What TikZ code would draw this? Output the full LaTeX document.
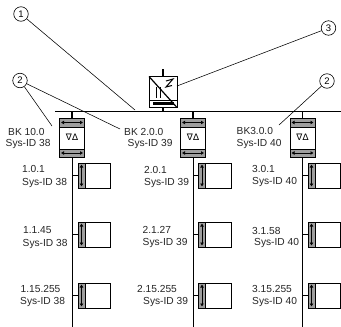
\documentclass[tikz,border=0pt]{standalone}
\usepackage{fontspec}
\setmainfont{Liberation Sans}
\usetikzlibrary{arrows.meta}
\definecolor{bandgray}{gray}{0.62}
\tikzset{
 x=1pt,y=-1pt,
 lab/.style={anchor=base west,inner sep=0pt,font=\fontsize{10.2}{12}\selectfont,text=black!85},
 num/.style={circle,draw,line width=0.6pt,minimum size=14.5pt,inner sep=0pt,font=\fontsize{9.5}{11}\selectfont,fill=white},
 leader/.style={line width=0.55pt},
 bus/.style={line width=0.9pt},
 stub/.style={line width=1.2pt},
 dbl/.style={{Latex[length=3pt,width=4pt]}-{Latex[length=3pt,width=4pt]},line width=1pt},
 bandbox/.style={draw,line width=0.6pt,fill=bandgray,minimum width=25pt,inner sep=0pt,outer sep=0pt},
 rep/.style={draw,line width=0.8pt,fill=white,minimum width=25pt,minimum height=39pt,inner sep=0pt,outer sep=0pt},
 modbox/.style={draw,line width=0.8pt,fill=white,minimum width=25.5pt,minimum height=25pt,inner sep=0pt,outer sep=0pt,anchor=west},
 modband/.style={draw,line width=0.6pt,fill=bandgray,minimum width=7pt,minimum height=25pt,inner sep=0pt,outer sep=0pt,anchor=east},
}
% repeater: #1 name, #2 centre x
\newcommand{\repeater}[2]{%
 \node[rep] (#1) at (#2,137.5) {};
 \node[bandbox,minimum height=9pt,anchor=north] (#1t) at (#1.north) {};
 \node[bandbox,minimum height=8pt,anchor=south] (#1b) at (#1.south) {};
 \draw[dbl] ([xshift=1.5pt]#1t.west) -- ([xshift=-1.5pt]#1t.east);
 \draw[dbl] ([xshift=1.5pt]#1b.west) -- ([xshift=-1.5pt]#1b.east);
 \node[inner sep=0pt] (#1s) at (#1) {\fontsize{9}{10}\selectfont\fontspec{DejaVu Sans}∇∆};
}
% module: #1 name, #2 box left x, #3 centre y, #4 bus coordinate name
\newcommand{\module}[4]{%
 \node[modbox] (#1) at (#2,#3) {};
 \node[modband] (#1b) at (#1.west) {};
 \draw[dbl] ([yshift=-1.5pt]#1b.north) -- ([yshift=1.5pt]#1b.south);
 \coordinate (#1c) at (#4|-#1b.west);
 \draw[stub] (#1c) -- (#1b.west);
}
\begin{document}
\begin{tikzpicture}
\useasboundingbox (0,0) rectangle (341,327);
\fill[white] (0,0) rectangle (341,327);
% bus
\coordinate (busL) at (55,111);
\coordinate (busR) at (341,111);
\draw[bus] (busL) -- (busR);
% repeaters
\repeater{ra}{72}
\repeater{rb}{193}
\repeater{rc}{302.5}
\foreach \r in {ra,rb,rc}{
 \coordinate (\r bus) at (\r|-busL);
 \coordinate (\r end) at (\r|-0,327);
 \draw[stub] (\r bus) -- (\r t.north);
 \draw[bus] (\r b.south) -- (\r end);
}
% modules
\module{ma}{85}{175.5}{ra}
\module{mb}{85}{234.5}{ra}
\module{mc}{85}{295.5}{ra}
\module{md}{205.5}{175.5}{rb}
\module{me}{205.5}{234.5}{rb}
\module{mf}{205.5}{295.5}{rb}
\module{mg}{315}{175.5}{rc}
\module{mh}{315}{234.5}{rc}
\module{mi}{315}{295.5}{rc}
% gateway
\node[draw,line width=0.8pt,fill=white,minimum width=28pt,minimum height=31pt,inner sep=0pt,outer sep=0pt] (gw) at (163,92) {};
\coordinate (gwT) at (163,69);
\coordinate (gwB) at (163,111);
\coordinate (gwE) at (177,86);
\draw[stub] (gwT) -- (gw.north);
\draw[stub] (gw.south) -- (gwB);
\draw[line width=1.2pt] (gw.north west) -- (gw.south east);
\draw[line width=0.8pt] (149,100) -- (177,100);
\fill (153,101.5) rectangle (174,104.5);
\draw[line width=1pt] (156.5,87) -- (156.5,98) (160,87) -- (160,98);
\draw[line width=1pt] (166,81) -- (173,79) -- (166,87) -- (172,85.5);
% labels
\node[lab] (t1a) at (8,135) {BK 10.0};
\node[lab] (t1b) at (5.5,146) {Sys-ID 38};
\node[lab] (t2a) at (124,135) {BK 2.0.0};
\node[lab] (t2b) at (127.5,146) {Sys-ID 39};
\node[lab] (t3a) at (236.5,134) {BK3.0.0};
\node[lab] (t3b) at (236.5,146) {Sys-ID 40};
\node[lab] (l1) at (22,172.5) {1.0.1};
\node[lab] (l1s) at (22,185) {Sys-ID 38};
\node[lab] (l2) at (23,233) {1.1.45};
\node[lab] (l2s) at (22.5,246) {Sys-ID 38};
\node[lab] (l3) at (20.5,292) {1.15.255};
\node[lab] (l3s) at (20,304) {Sys-ID 38};
\node[lab] (l4) at (144,173) {2.0.1};
\node[lab] (l4s) at (144,185) {Sys-ID 39};
\node[lab] (l5a) at (142.5,233) {2.1.27};
\node[lab] (l5s) at (142.5,245) {Sys-ID 39};
\node[lab] (l6) at (137,292) {2.15.255};
\node[lab] (l6s) at (143,304) {Sys-ID 39};
\node[lab] (l7) at (252,172) {3.0.1};
\node[lab] (l7s) at (252,184) {Sys-ID 40};
\node[lab] (l8) at (252,234) {3.1.58};
\node[lab] (l8s) at (254,245) {Sys-ID 40};
\node[lab] (l9) at (252,292) {3.15.255};
\node[lab] (l9s) at (252,304) {Sys-ID 40};
% callouts
\node[num] (n1) at (21,14) {1};
\node[num] (n2) at (20,80.5) {2};
\node[num] (n3) at (328.5,28) {3};
\node[num] (n4) at (327,81) {2};
\coordinate (c1) at (135,110);
\coordinate (c2a) at (52,126);
\coordinate (c2b) at (120,129);
\coordinate (c2c) at (279,125);
\draw[leader] (n1) -- (c1);
\draw[leader] (n2) -- (c2a);
\draw[leader] (n2) -- (c2b);
\draw[leader] (n4) -- (c2c);
\draw[leader] (n3) -- (gwE);
\end{tikzpicture}
\end{document}
